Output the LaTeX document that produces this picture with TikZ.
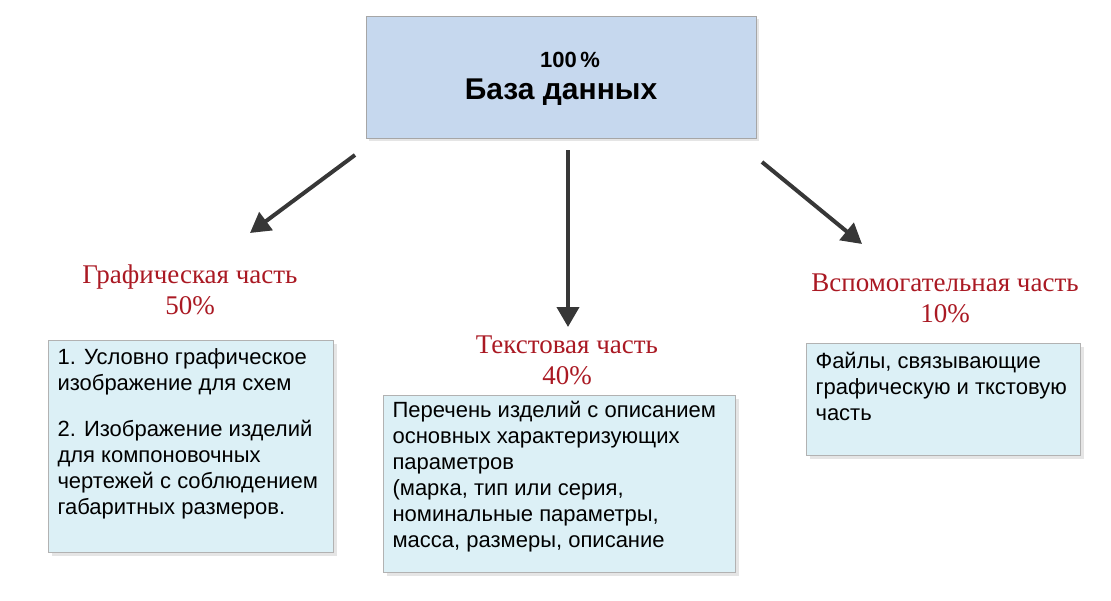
\documentclass[tikz,border=0pt]{standalone}
\usepackage{fontspec}
\setmainfont{Liberation Sans}
\newfontfamily\serifru{Liberation Serif}
\usetikzlibrary{arrows.meta,shadows}
\definecolor{topfill}{RGB}{198,216,238}
\definecolor{boxfill}{RGB}{220,240,246}
\definecolor{lblred}{RGB}{170,25,35}
\definecolor{arr}{RGB}{55,55,55}
\begin{document}
\begin{tikzpicture}[x=1pt,y=-1pt,
  box/.style={draw=gray!60,fill=boxfill,drop shadow={shadow xshift=4pt,shadow yshift=-4pt,fill=gray!40},anchor=north west,align=left,inner sep=0pt},
  lbl/.style={text=lblred,font=\serifru\fontsize{27}{31}\selectfont,align=center},
  btxt/.style={font=\fontsize{22}{26}\selectfont,align=left,anchor=north west},
  ar/.style={draw=arr,line width=4pt,-{Triangle[length=20pt,width=22pt]}}]
\useasboundingbox (0,0) rectangle (1111,600);
\node[draw=gray!70,fill=topfill,minimum width=390pt,minimum height=122pt,anchor=north west,
  drop shadow={shadow xshift=3pt,shadow yshift=-3pt,fill=gray!40}] (top) at (366,16) {};
\node[font=\bfseries\fontsize{22}{24}\selectfont] (p) at (570,60) {100\,\%};
\node[font=\bfseries\fontsize{30}{32}\selectfont] (db) at (561,92) {База данных};
\coordinate (a1) at (355,155); \coordinate (a1e) at (250,233);
\coordinate (a2) at (568,150); \coordinate (a2e) at (568,327);
\coordinate (a3) at (762,162); \coordinate (a3e) at (862,244);
\draw[ar] (a1) -- (a1e);
\draw[ar] (a2) -- (a2e);
\draw[ar] (a3) -- (a3e);
\node[lbl] (l1) at (190,290) {Графическая часть\\50\%};
\node[lbl] (l2) at (567,360) {Текстовая часть\\40\%};
\node[lbl] (l3) at (945,298) {Вспомогательная часть\\10\%};
\node[box,minimum width=285pt,minimum height=212pt] (b1) at (48,340) {};
\node[btxt] (t1) at (54,345) {1. Условно графическое\\изображение для схем\\[20pt]2. Изображение изделий\\для компоновочных\\чертежей с соблюдением\\габаритных размеров.};
\node[box,minimum width=352pt,minimum height=177pt] (b2) at (383,395) {};
\node[btxt] (t2) at (389,398) {Перечень изделий с описанием\\основных характеризующих\\параметров\\(марка, тип или серия,\\номинальные параметры,\\масса, размеры, описание};
\node[box,minimum width=274pt,minimum height=112pt] (b3) at (806,343) {};
\node[btxt] (t3) at (812,349) {Файлы, связывающие\\графическую и ткстовую\\часть};
\end{tikzpicture}
\end{document}
